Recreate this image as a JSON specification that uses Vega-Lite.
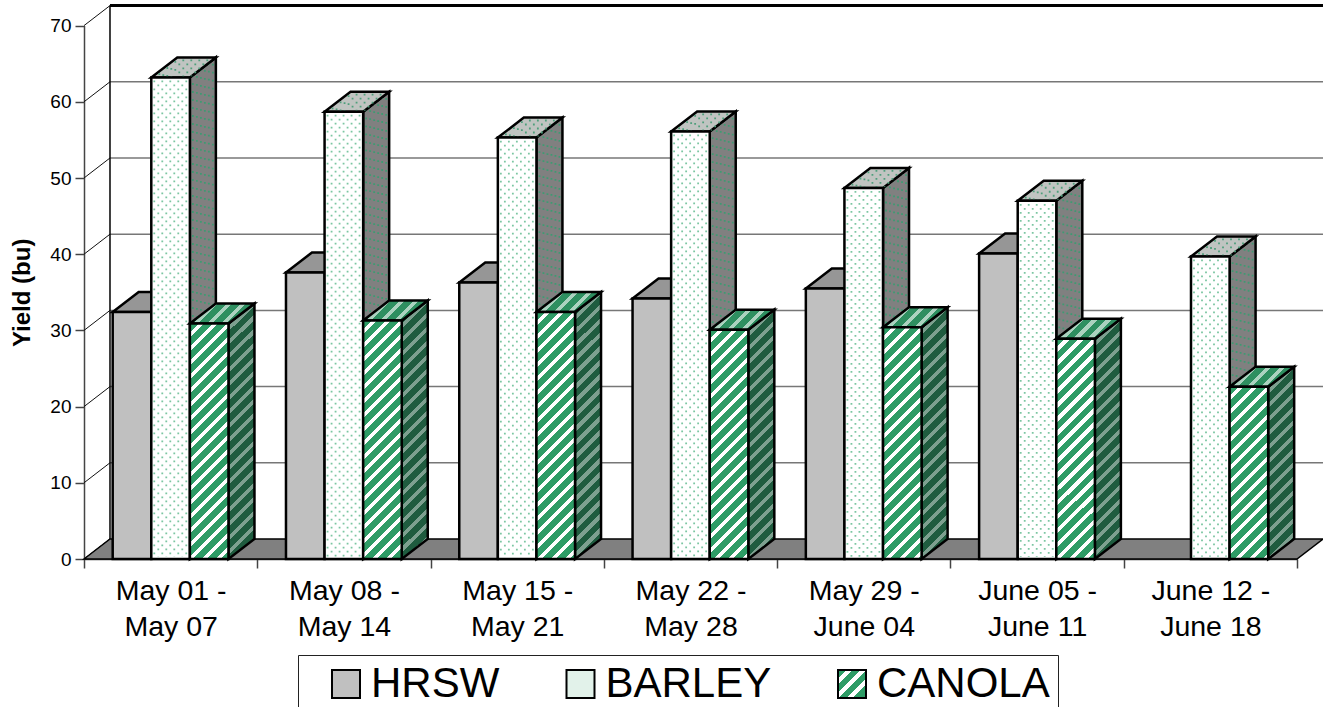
{"$schema":"https://vega.github.io/schema/vega-lite/v6.json","width":1239,"height":559,"autosize":"none","padding":{"left":84,"top":0,"right":0,"bottom":148},"background":"white","config":{"view":{"stroke":null},"font":"Liberation Sans"},
"params":[{"name":"LG","value":{"gradient":"linear","x1":0,"y1":0,"x2":1,"y2":1,"stops":[{"offset":0,"color":"#2e9c66"},{"offset":0.16,"color":"#2e9c66"},{"offset":0.16,"color":"#fff"},{"offset":0.25,"color":"#fff"},{"offset":0.25,"color":"#2e9c66"},{"offset":0.41,"color":"#2e9c66"},{"offset":0.41,"color":"#fff"},{"offset":0.5,"color":"#fff"},{"offset":0.5,"color":"#2e9c66"},{"offset":0.66,"color":"#2e9c66"},{"offset":0.66,"color":"#fff"},{"offset":0.75,"color":"#fff"},{"offset":0.75,"color":"#2e9c66"},{"offset":1,"color":"#2e9c66"}]}},
{"name":"W","value":[
{"offset":0,"color":"#fff0"},{"offset":0.019,"color":"#fff0"},{"offset":0.019,"color":"#fff"},{"offset":0.03,"color":"#fff"},
{"offset":0.03,"color":"#fff0"},{"offset":0.049,"color":"#fff0"},{"offset":0.049,"color":"#fff"},{"offset":0.06,"color":"#fff"},
{"offset":0.06,"color":"#fff0"},{"offset":0.079,"color":"#fff0"},{"offset":0.079,"color":"#fff"},{"offset":0.09,"color":"#fff"},
{"offset":0.09,"color":"#fff0"},{"offset":0.109,"color":"#fff0"},{"offset":0.109,"color":"#fff"},{"offset":0.12,"color":"#fff"},
{"offset":0.12,"color":"#fff0"},{"offset":0.139,"color":"#fff0"},{"offset":0.139,"color":"#fff"},{"offset":0.15,"color":"#fff"},
{"offset":0.15,"color":"#fff0"},{"offset":0.169,"color":"#fff0"},{"offset":0.169,"color":"#fff"},{"offset":0.18,"color":"#fff"},
{"offset":0.18,"color":"#fff0"},{"offset":0.199,"color":"#fff0"},{"offset":0.199,"color":"#fff"},{"offset":0.21,"color":"#fff"},
{"offset":0.21,"color":"#fff0"},{"offset":0.229,"color":"#fff0"},{"offset":0.229,"color":"#fff"},{"offset":0.24,"color":"#fff"},
{"offset":0.24,"color":"#fff0"},{"offset":0.259,"color":"#fff0"},{"offset":0.259,"color":"#fff"},{"offset":0.27,"color":"#fff"},
{"offset":0.27,"color":"#fff0"},{"offset":0.289,"color":"#fff0"},{"offset":0.289,"color":"#fff"},{"offset":0.30,"color":"#fff"},
{"offset":0.30,"color":"#fff0"},{"offset":0.319,"color":"#fff0"},{"offset":0.319,"color":"#fff"},{"offset":0.33,"color":"#fff"},
{"offset":0.33,"color":"#fff0"},{"offset":0.349,"color":"#fff0"},{"offset":0.349,"color":"#fff"},{"offset":0.36,"color":"#fff"},
{"offset":0.36,"color":"#fff0"},{"offset":0.379,"color":"#fff0"},{"offset":0.379,"color":"#fff"},{"offset":0.39,"color":"#fff"},
{"offset":0.39,"color":"#fff0"},{"offset":0.409,"color":"#fff0"},{"offset":0.409,"color":"#fff"},{"offset":0.42,"color":"#fff"},
{"offset":0.42,"color":"#fff0"},{"offset":0.439,"color":"#fff0"},{"offset":0.439,"color":"#fff"},{"offset":0.45,"color":"#fff"},
{"offset":0.45,"color":"#fff0"},{"offset":0.469,"color":"#fff0"},{"offset":0.469,"color":"#fff"},{"offset":0.48,"color":"#fff"},
{"offset":0.48,"color":"#fff0"},{"offset":0.499,"color":"#fff0"},{"offset":0.499,"color":"#fff"},{"offset":0.51,"color":"#fff"},
{"offset":0.51,"color":"#fff0"},{"offset":0.529,"color":"#fff0"},{"offset":0.529,"color":"#fff"},{"offset":0.54,"color":"#fff"},
{"offset":0.54,"color":"#fff0"},{"offset":0.559,"color":"#fff0"},{"offset":0.559,"color":"#fff"},{"offset":0.57,"color":"#fff"},
{"offset":0.57,"color":"#fff0"},{"offset":0.589,"color":"#fff0"},{"offset":0.589,"color":"#fff"},{"offset":0.60,"color":"#fff"},
{"offset":0.60,"color":"#fff0"},{"offset":0.619,"color":"#fff0"},{"offset":0.619,"color":"#fff"},{"offset":0.63,"color":"#fff"},
{"offset":0.63,"color":"#fff0"},{"offset":0.649,"color":"#fff0"},{"offset":0.649,"color":"#fff"},{"offset":0.66,"color":"#fff"}
]}],
"datasets":{"ticks":[{"t":0},{"t":10},{"t":20},{"t":30},{"t":40},{"t":50},{"t":60},{"t":70}]},
"data":{"values":[
{"period":"May 01 - May 07","crop":"HRSW","value":32.4},{"period":"May 01 - May 07","crop":"BARLEY","value":63.2},{"period":"May 01 - May 07","crop":"CANOLA","value":30.9},
{"period":"May 08 - May 14","crop":"HRSW","value":37.6},{"period":"May 08 - May 14","crop":"BARLEY","value":58.7},{"period":"May 08 - May 14","crop":"CANOLA","value":31.3},
{"period":"May 15 - May 21","crop":"HRSW","value":36.3},{"period":"May 15 - May 21","crop":"BARLEY","value":55.3},{"period":"May 15 - May 21","crop":"CANOLA","value":32.4},
{"period":"May 22 - May 28","crop":"HRSW","value":34.2},{"period":"May 22 - May 28","crop":"BARLEY","value":56.1},{"period":"May 22 - May 28","crop":"CANOLA","value":30.1},
{"period":"May 29 - June 04","crop":"HRSW","value":35.5},{"period":"May 29 - June 04","crop":"BARLEY","value":48.7},{"period":"May 29 - June 04","crop":"CANOLA","value":30.4},
{"period":"June 05 - June 11","crop":"HRSW","value":40.1},{"period":"June 05 - June 11","crop":"BARLEY","value":47.0},{"period":"June 05 - June 11","crop":"CANOLA","value":28.9},
{"period":"June 12 - June 18","crop":"BARLEY","value":39.7},{"period":"June 12 - June 18","crop":"CANOLA","value":22.6}
]},
"transform":[
{"calculate":"indexof(['May 01 - May 07','May 08 - May 14','May 15 - May 21','May 22 - May 28','May 29 - June 04','June 05 - June 11','June 12 - June 18'],datum.period)","as":"g"},
{"calculate":"indexof(['HRSW','BARLEY','CANOLA'],datum.crop)","as":"c"},
{"calculate":"datum.g+0.1656+datum.c*0.2227","as":"x0"},
{"calculate":"datum.x0+0.2227","as":"x1"},
{"calculate":"[0,0,0,2.625]","as":"loK"},
{"calculate":"[0,2.625,2.625,2.625]","as":"hiK"}
],
"layer":[
{"data":{"name":"ticks"},"transform":[{"calculate":"datum.t+2.625","as":"tb"},{"calculate":"0.15","as":"xb"},{"calculate":"0","as":"xa"}],
"mark":{"type":"rule","stroke":"#111","strokeWidth":1},
"encoding":{
"x":{"field":"xa","type":"quantitative","scale":{"domain":[0,7],"range":[0,1213],"nice":false,"zero":false},
"axis":{"title":null,"values":[0,1,2,3,4,5,6,7],"grid":false,"tickSize":9,"tickWidth":1.5,"tickColor":"#444","domainColor":"#444","domainWidth":1.5,"labelFontSize":28.5,"labelFont":"Liberation Sans","labelColor":"#000","labelLineHeight":36,"labelPadding":8,"labelOffset":86.65,"labelOverlap":false,"labelBound":false,"labelFlush":false,"labelAlign":"center","labelBaseline":"top",
"labelExpr":"[['May 01 -','May 07'],['May 08 -','May 14'],['May 15 -','May 21'],['May 22 -','May 28'],['May 29 -','June 04'],['June 05 -','June 11'],['June 12 -','June 18'],['','']][datum.value]"}},
"x2":{"field":"xb"},
"y":{"field":"t","type":"quantitative","scale":{"domain":[0,70],"range":[559,25.6],"nice":false,"zero":false},
"axis":{"title":"Yield (bu)","titleFontSize":24,"titleFont":"Liberation Sans","titleFontWeight":"bold","titleColor":"#000","titlePadding":15,"values":[0,10,20,30,40,50,60,70],"grid":false,"tickSize":9,"tickWidth":1.5,"tickColor":"#444","domainColor":"#444","domainWidth":1.5,"labelFontSize":19,"labelFont":"Liberation Sans","labelColor":"#000","labelPadding":4}},
"y2":{"field":"tb"}}},
{"data":{"name":"ticks"},"transform":[{"filter":"datum.t>0&&datum.t<70"},{"calculate":"datum.t+2.625","as":"tb"},{"calculate":"0.15","as":"xa"},{"calculate":"7.15","as":"xb"}],
"mark":{"type":"rule","stroke":"#777","strokeWidth":1.5},
"encoding":{"x":{"field":"xa","type":"quantitative"},"x2":{"field":"xb"},"y":{"field":"tb","type":"quantitative"}}},
{"data":{"name":"ticks"},"transform":[{"filter":"datum.t==70"},{"calculate":"datum.t+2.625","as":"tb"},{"calculate":"0.15","as":"xa"},{"calculate":"7.15","as":"xb"}],
"mark":{"type":"rule","stroke":"#000","strokeWidth":3},
"encoding":{"x":{"field":"xa","type":"quantitative"},"x2":{"field":"xb"},"y":{"field":"tb","type":"quantitative"}}},
{"data":{"name":"ticks"},"transform":[{"filter":"datum.t==70"},{"calculate":"datum.t+2.625","as":"tb"},{"calculate":"0.15","as":"xa"},{"calculate":"2.625","as":"yb"}],
"mark":{"type":"rule","stroke":"#000","strokeWidth":1.5},
"encoding":{"x":{"field":"xa","type":"quantitative"},"y":{"field":"tb","type":"quantitative"},"y2":{"field":"yb"}}},
{"data":{"values":[{"k":0},{"k":1},{"k":2},{"k":3}]},"transform":[{"calculate":"[0,0.15,7,7.15][datum.k]","as":"fx"},{"calculate":"[0,0,0,2.625][datum.k]","as":"lo"},{"calculate":"[0,2.625,2.625,2.625][datum.k]","as":"hi"}],
"mark":{"type":"area","orient":"vertical","fill":"#808080","stroke":"#000","strokeWidth":1.5,"opacity":1},
"encoding":{"x":{"field":"fx","type":"quantitative"},"y":{"field":"hi","type":"quantitative"},"y2":{"field":"lo"}}},
{"mark":{"type":"rect","fill":{"expr":"datum.value=='CANOLA'?LG:(datum.value=='HRSW'?'#c0c0c0':'#e2f2ea')"}},
"encoding":{"x":{"field":"x0","type":"quantitative"},"x2":{"field":"x1"},"y":{"field":"value","type":"quantitative"},"y2":{"datum":0},
"stroke":{"field":"crop","type":"nominal","scale":{"domain":["HRSW","BARLEY","CANOLA"],"range":["#000000","#000001","#000002"]},
"legend":{"orient":"none","legendX":214,"legendY":655,"direction":"horizontal","columns":3,"title":null,"fillColor":"#fff","strokeColor":"#222","symbolType":"square","symbolSize":784,"symbolStrokeWidth":2,"labelFontSize":42,"labelFont":"Liberation Sans","labelColor":"#000","labelLimit":500,"labelOffset":4,"padding":8,"columnPadding":40.5,"symbolOffset":19,"labelExpr":"datum.label=='CANOLA'?'CANOLA\u00a0\u00a0':datum.label"}}}},
{"transform":[{"filter":"datum.crop=='HRSW'"},{"calculate":"[0,1,2,3]","as":"k"},{"flatten":["k"]},{"calculate":"[datum.x0,datum.x0+0.15,datum.x1,datum.x1+0.15][datum.k]","as":"fx"},{"calculate":"datum.value+datum.loK[datum.k]","as":"lo"},{"calculate":"datum.value+datum.hiK[datum.k]","as":"hi"}],
"mark":{"type":"area","orient":"vertical","fill":"#969696","stroke":"#000","strokeWidth":2.5,"opacity":1},
"encoding":{"x":{"field":"fx","type":"quantitative"},"y":{"field":"hi","type":"quantitative"},"y2":{"field":"lo"},"detail":{"field":"period"}}},
{"transform":[{"filter":"datum.crop=='HRSW'"}],
"mark":{"type":"rect","fill":"#c0c0c0","stroke":"#000","strokeWidth":2.5},
"encoding":{"x":{"field":"x0","type":"quantitative"},"x2":{"field":"x1"},"y":{"field":"value","type":"quantitative"},"y2":{"datum":0}}},
{"transform":[{"filter":"datum.crop=='BARLEY'"},{"calculate":"[0,1]","as":"k"},{"flatten":["k"]},{"calculate":"datum.x1+datum.k*0.15","as":"fx"},{"calculate":"datum.value+datum.k*2.625","as":"hi"},{"calculate":"datum.k*2.625","as":"lo"}],
"mark":{"type":"area","orient":"vertical","fill":"#808080","stroke":"#000","strokeWidth":2.5,"opacity":1},
"encoding":{"x":{"field":"fx","type":"quantitative"},"y":{"field":"hi","type":"quantitative"},"y2":{"field":"lo"},"detail":{"field":"period"}}},
{"transform":[{"filter":"datum.crop=='BARLEY'"},{"calculate":"[0,2,4]","as":"j"},{"flatten":["j"]},{"calculate":"(3+4*datum.j)","as":"o"},{"calculate":"datum.x1+datum.o/173.3","as":"xd"},{"calculate":"datum.o/26*2.625","as":"lo"},{"calculate":"datum.value+datum.lo","as":"hi"}],
"mark":{"type":"rule","stroke":"#3f9a72","strokeWidth":1.8,"strokeDash":[1.8,6.2],"strokeDashOffset":0},
"encoding":{"x":{"field":"xd","type":"quantitative"},"y":{"field":"hi","type":"quantitative"},"y2":{"field":"lo"}}},
{"transform":[{"filter":"datum.crop=='BARLEY'"},{"calculate":"[1,3,5]","as":"j"},{"flatten":["j"]},{"calculate":"(3+4*datum.j)","as":"o"},{"calculate":"datum.x1+datum.o/173.3","as":"xd"},{"calculate":"datum.o/26*2.625","as":"lo"},{"calculate":"datum.value+datum.lo","as":"hi"}],
"mark":{"type":"rule","stroke":"#3f9a72","strokeWidth":1.8,"strokeDash":[1.8,6.2],"strokeDashOffset":4},
"encoding":{"x":{"field":"xd","type":"quantitative"},"y":{"field":"hi","type":"quantitative"},"y2":{"field":"lo"}}},
{"transform":[{"filter":"datum.crop=='BARLEY'"},{"calculate":"[0,1,2,3]","as":"k"},{"flatten":["k"]},{"calculate":"[datum.x0,datum.x0+0.15,datum.x1,datum.x1+0.15][datum.k]","as":"fx"},{"calculate":"datum.value+datum.loK[datum.k]","as":"lo"},{"calculate":"datum.value+datum.hiK[datum.k]","as":"hi"}],
"mark":{"type":"area","orient":"vertical","fill":"#c0c4c1","stroke":"#000","strokeWidth":2.5,"opacity":1},
"encoding":{"x":{"field":"fx","type":"quantitative"},"y":{"field":"hi","type":"quantitative"},"y2":{"field":"lo"},"detail":{"field":"period"}}},
{"transform":[{"filter":"datum.crop=='BARLEY'"},{"calculate":"[0,2,4,6,8,10,12,14]","as":"j"},{"flatten":["j"]},{"calculate":"(4+4*datum.j)","as":"o"},{"calculate":"datum.x0+datum.o/173.3","as":"xd"},{"calculate":"datum.value+max(0,datum.o-38.6)/26*2.625","as":"lo"},{"calculate":"datum.value+min(datum.o,26)/26*2.625","as":"hi"}],
"mark":{"type":"rule","stroke":"#4f9f7c","strokeWidth":1.8,"strokeDash":[1.8,6.2],"strokeDashOffset":2},
"encoding":{"x":{"field":"xd","type":"quantitative"},"y":{"field":"hi","type":"quantitative"},"y2":{"field":"lo"}}},
{"transform":[{"filter":"datum.crop=='BARLEY'"},{"calculate":"[1,3,5,7,9,11,13]","as":"j"},{"flatten":["j"]},{"calculate":"(4+4*datum.j)","as":"o"},{"calculate":"datum.x0+datum.o/173.3","as":"xd"},{"calculate":"datum.value+max(0,datum.o-38.6)/26*2.625","as":"lo"},{"calculate":"datum.value+min(datum.o,26)/26*2.625","as":"hi"}],
"mark":{"type":"rule","stroke":"#4f9f7c","strokeWidth":1.8,"strokeDash":[1.8,6.2],"strokeDashOffset":6},
"encoding":{"x":{"field":"xd","type":"quantitative"},"y":{"field":"hi","type":"quantitative"},"y2":{"field":"lo"}}},
{"transform":[{"filter":"datum.crop=='BARLEY'"}],
"mark":{"type":"rect","fill":"#fff","stroke":"#000","strokeWidth":2.5},
"encoding":{"x":{"field":"x0","type":"quantitative"},"x2":{"field":"x1"},"y":{"field":"value","type":"quantitative"},"y2":{"datum":0}}},
{"transform":[{"filter":"datum.crop=='BARLEY'"},{"calculate":"[0,2,4,6,8]","as":"j"},{"flatten":["j"]},{"calculate":"datum.x0+(3+4*datum.j)/173.3","as":"xd"},{"calculate":"datum.value-0.4","as":"hi"}],
"mark":{"type":"rule","stroke":"#7cc6a2","strokeWidth":1.8,"strokeDash":[1.8,6.2],"strokeDashOffset":0},
"encoding":{"x":{"field":"xd","type":"quantitative"},"y":{"field":"hi","type":"quantitative"},"y2":{"datum":0.3}}},
{"transform":[{"filter":"datum.crop=='BARLEY'"},{"calculate":"[1,3,5,7]","as":"j"},{"flatten":["j"]},{"calculate":"datum.x0+(3+4*datum.j)/173.3","as":"xd"},{"calculate":"datum.value-0.4","as":"hi"}],
"mark":{"type":"rule","stroke":"#7cc6a2","strokeWidth":1.8,"strokeDash":[1.8,6.2],"strokeDashOffset":4},
"encoding":{"x":{"field":"xd","type":"quantitative"},"y":{"field":"hi","type":"quantitative"},"y2":{"datum":0.3}}},
{"transform":[{"filter":"datum.crop=='CANOLA'"},{"calculate":"[0,1]","as":"k"},{"flatten":["k"]},{"calculate":"datum.x1+datum.k*0.15","as":"fx"},{"calculate":"datum.value+datum.k*2.625","as":"hi"},{"calculate":"datum.k*2.625","as":"lo"}],
"mark":{"type":"area","orient":"vertical","fill":"#1f5c3f","opacity":1},
"encoding":{"x":{"field":"fx","type":"quantitative"},"y":{"field":"hi","type":"quantitative"},"y2":{"field":"lo"},"detail":{"field":"period"}}},
{"transform":[{"filter":"datum.crop=='CANOLA'"},{"calculate":"[0,1]","as":"k"},{"flatten":["k"]},{"calculate":"datum.x1+datum.k*0.15","as":"fx"},{"calculate":"datum.value+datum.k*2.625","as":"hi"},{"calculate":"datum.k*2.625","as":"lo"},{"calculate":"7.63*datum.value+20","as":"h"},{"calculate":"{gradient:'linear',x1:0,y1:0,x2:26*467/(676+datum.h*datum.h),y2:datum.h*467/(676+datum.h*datum.h),stops:W}","as":"gr"}],
"mark":{"type":"area","orient":"vertical","stroke":"#000","strokeWidth":2.5,"fillOpacity":0.42,"opacity":1},
"encoding":{"x":{"field":"fx","type":"quantitative"},"y":{"field":"hi","type":"quantitative"},"y2":{"field":"lo"},"detail":{"field":"period"},"fill":{"field":"gr","type":"nominal","scale":null}}},
{"transform":[{"filter":"datum.crop=='CANOLA'"},{"calculate":"[0,1,2,3]","as":"k"},{"flatten":["k"]},{"calculate":"[datum.x0,datum.x0+0.15,datum.x1,datum.x1+0.15][datum.k]","as":"fx"},{"calculate":"datum.value+datum.loK[datum.k]","as":"lo"},{"calculate":"datum.value+datum.hiK[datum.k]","as":"hi"}],
"mark":{"type":"area","orient":"vertical","fill":"#2e8f60","opacity":1},
"encoding":{"x":{"field":"fx","type":"quantitative"},"y":{"field":"hi","type":"quantitative"},"y2":{"field":"lo"},"detail":{"field":"period"}}},
{"transform":[{"filter":"datum.crop=='CANOLA'"},{"calculate":"[0,1,2,3]","as":"k"},{"flatten":["k"]},{"calculate":"[datum.x0,datum.x0+0.15,datum.x1,datum.x1+0.15][datum.k]","as":"fx"},{"calculate":"datum.value+datum.loK[datum.k]","as":"lo"},{"calculate":"datum.value+datum.hiK[datum.k]","as":"hi"},{"calculate":"{gradient:'linear',x1:0,y1:0,x2:6.597,y2:2.042,stops:W}","as":"gr"}],
"mark":{"type":"area","orient":"vertical","stroke":"#000","strokeWidth":2.5,"fillOpacity":0.6,"opacity":1},
"encoding":{"x":{"field":"fx","type":"quantitative"},"y":{"field":"hi","type":"quantitative"},"y2":{"field":"lo"},"detail":{"field":"period"},"fill":{"field":"gr","type":"nominal","scale":null}}},
{"transform":[{"filter":"datum.crop=='CANOLA'"}],
"mark":{"type":"rect","fill":"#2e9c66"},
"encoding":{"x":{"field":"x0","type":"quantitative"},"x2":{"field":"x1"},"y":{"field":"value","type":"quantitative"},"y2":{"datum":0}}},
{"transform":[{"filter":"datum.crop=='CANOLA'"},{"calculate":"7.63*datum.value","as":"h"},{"calculate":"{gradient:'linear',x1:0,y1:0,x2:38.6*467/(1490+datum.h*datum.h),y2:datum.h*467/(1490+datum.h*datum.h),stops:W}","as":"gr"}],
"mark":{"type":"rect","stroke":"#000","strokeWidth":2.5},
"encoding":{"x":{"field":"x0","type":"quantitative"},"x2":{"field":"x1"},"y":{"field":"value","type":"quantitative"},"y2":{"datum":0},"fill":{"field":"gr","type":"nominal","scale":null}}}
]}
